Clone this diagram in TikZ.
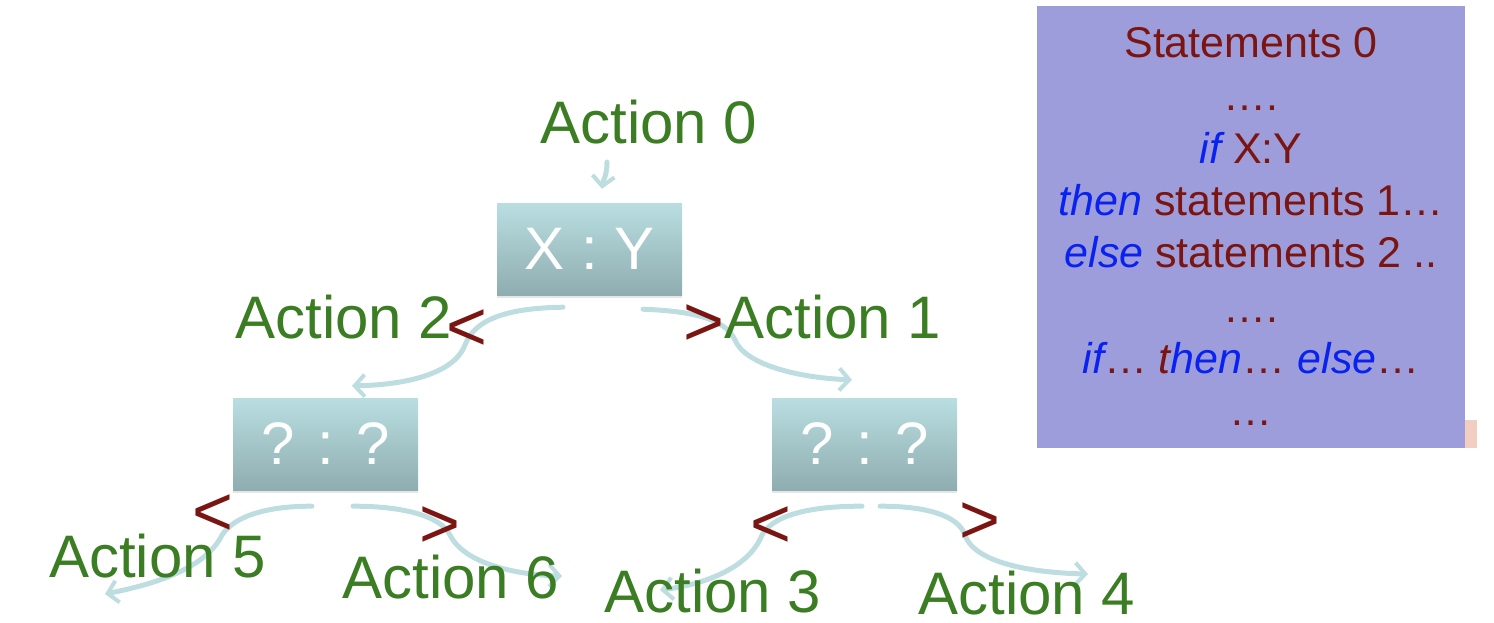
\documentclass[tikz,border=0pt]{standalone}
\usepackage{fontspec}
\setmainfont{Liberation Sans}
\usetikzlibrary{arrows.meta,shadows}
\definecolor{actgreen}{HTML}{3B7D23}
\definecolor{maroon}{HTML}{7A1511}
\definecolor{kwblue}{HTML}{0A22F0}
\definecolor{linkblue}{HTML}{BDDDE1}
\definecolor{boxtop}{HTML}{B9DEE1}
\definecolor{boxbot}{HTML}{8FADB0}
\definecolor{panelbg}{HTML}{9E9DDB}
\definecolor{patchbg}{HTML}{F2CEC2}

\begin{document}
\begin{tikzpicture}[x=1pt,y=-1pt,
    testbox/.style={rectangle,minimum width=185pt,minimum height=92pt,inner sep=0pt,top color=boxtop,bottom color=boxbot,text=white,font=\fontsize{60}{72}\selectfont,drop shadow={opacity=0.2,shadow xshift=0pt,shadow yshift=-3pt}},
    action/.style={anchor=base,text=actgreen,inner sep=0pt,font=\fontsize{60}{72}\selectfont},
    cmp/.style={anchor=base,text=maroon,inner sep=0pt,font=\fontsize{70}{84}\selectfont},
    stmt/.style={anchor=base,text=maroon,inner sep=0pt,font=\fontsize{43}{52}\selectfont},
    link/.style={draw=linkblue,line width=5pt,line cap=round,-{Straight Barb[length=10pt,width=22pt,line width=4pt]}}]
    \useasboundingbox (0,0) rectangle (1494,622);

    \node (patch) at (1381,434) [fill=patchbg,minimum width=192pt,minimum height=28pt,inner sep=0pt] {};
    \node (panel) at (1251,227) [fill=panelbg,minimum width=428pt,minimum height=442pt,inner sep=0pt] {};
    \foreach \yy/\txt [count=\i] in {57/{Statements 0},
        110/{….},
        163/{\textcolor{kwblue}{\itshape if} X:Y},
        215/{\textcolor{kwblue}{\itshape then} statements 1…},
        267/{\textcolor{kwblue}{\itshape else} statements 2 ..},
        322/{….},
        373/{\textcolor{kwblue}{\itshape if}… {\itshape t\textcolor{kwblue}{hen}}… \textcolor{kwblue}{\itshape else}…},
        425/{…}}
        \node (st\i) at (1251,\yy) [stmt] {\txt};

    \node (xy) at (589.5,249) [testbox] {X : Y};
    \node (lq) at (325.5,444) [testbox] {? : ?};
    \node (rq) at (864.5,444) [testbox] {? : ?};

    \coordinate (a0) at (649,143);
    \coordinate (a1) at (833,338);
    \coordinate (a2) at (344,338);
    \coordinate (a3) at (713,612);
    \coordinate (a4) at (1027,614);
    \coordinate (a5) at (157.5,577);
    \coordinate (a6) at (451,598);

    \draw[link] ([shift={(-42,19)}]a0) .. controls (607,176) and (603,180) .. ([shift={(12.5,-14)}]xy.north);
    \draw[link] ([shift={(-26.5,12)}]xy.south) .. controls (510,308) and (475,318) .. (465,345) .. controls (455,372) and (410,385) .. ([shift={(26.5,-12)}]lq.north);
    \draw[link] ([shift={(53.5,14)}]xy.south) .. controls (690,311) and (725,318) .. (735,340) .. controls (745,365) and (800,378) .. ([shift={(-12.5,-18)}]rq.north);
    \draw[link] ([shift={(-13.5,16)}]lq.south) .. controls (270,506) and (235,515) .. (222,535) .. controls (205,570) and (150,585) .. ([shift={(-52.5,17)}]a5);
    \draw[link] ([shift={(27.5,16)}]lq.south) .. controls (400,506) and (440,515) .. (450,535) .. controls (465,565) and (520,575) .. ([shift={(111,-22)}]a6);
    \draw[link] ([shift={(-2.5,16)}]rq.south) .. controls (820,506) and (775,512) .. (762,535) .. controls (748,570) and (700,585) .. ([shift={(-53,-22)}]a3);
    \draw[link] ([shift={(15.5,16)}]rq.south) .. controls (925,506) and (958,515) .. (965,535) .. controls (975,565) and (1040,573) .. ([shift={(61,-40)}]a4);

    \node (act0) at (a0) [action] {Action 0};
    \node (act1) at (a1) [action] {Action 1};
    \node (act2) at (a2) [action] {Action 2};
    \node (act3) at (a3) [action] {Action 3};
    \node (act4) at (a4) [action] {Action 4};
    \node (act5) at (a5) [action] {Action 5};
    \node (act6) at (a6) [action] {Action 6};

    \node (lt0) at (467,350) [cmp] {<};
    \node (gt0) at (704,345) [cmp] {>};
    \node (lt1) at (213,535) [cmp] {<};
    \node (gt1) at (440,547) [cmp] {>};
    \node (lt2) at (771,547) [cmp] {<};
    \node (gt2) at (980,543) [cmp] {>};
\end{tikzpicture}
\end{document}
